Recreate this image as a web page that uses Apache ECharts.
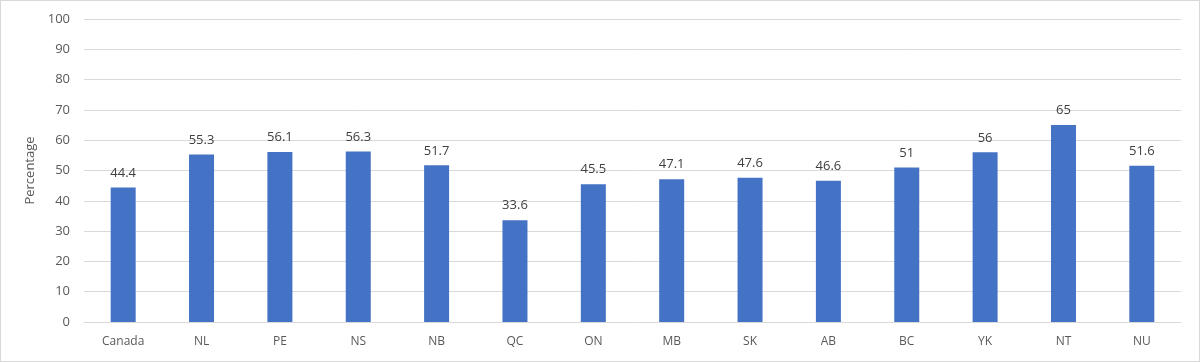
<!DOCTYPE html>
<html><head><meta charset="utf-8">
<script src="https://cdn.jsdelivr.net/npm/echarts@6/dist/echarts.min.js"></script>
<style>html,body{margin:0;padding:0;background:#fff}#c{width:1200px;height:362px;box-sizing:border-box;border:1px solid #d9d9d9}</style>
</head><body><div id="c"></div>
<script>
const categories = ["Canada","NL","PE","NS","NB","QC","ON","MB","SK","AB","BC","YK","NT","NU"];
const values = [44.4,55.3,56.1,56.3,51.7,33.6,45.5,47.1,47.6,46.6,51,56,65,51.6];
const yTicks = {min:0,max:100,interval:10};
const chart = echarts.init(document.getElementById('c'));
const font = "'Open Sans', 'Liberation Sans', sans-serif";
chart.setOption({
  animation:false,
  grid:{left:83,right:18,top:18,bottom:39,containLabel:false},
  xAxis:{type:'category',data:categories,
    axisLine:{lineStyle:{color:'#d9d9d9'}},axisTick:{show:false},
    axisLabel:{color:'#595959',fontSize:12,fontFamily:font,margin:14}},
  yAxis:{type:'value',min:yTicks.min,max:yTicks.max,interval:yTicks.interval,
    name:'Percentage',nameLocation:'middle',nameGap:44,nameRotate:90,
    nameTextStyle:{color:'#595959',fontSize:13,fontFamily:font},
    axisLine:{show:false},axisTick:{show:false},
    axisLabel:{color:'#595959',fontSize:13,fontFamily:font,margin:14},
    splitLine:{lineStyle:{color:'#d9d9d9'}}},
  series:[{type:'bar',data:values,barWidth:25,
    itemStyle:{color:'#4472c4'},
    label:{show:true,position:'top',color:'#404040',fontSize:13,fontFamily:font,distance:8}}]
});
</script></body></html>
